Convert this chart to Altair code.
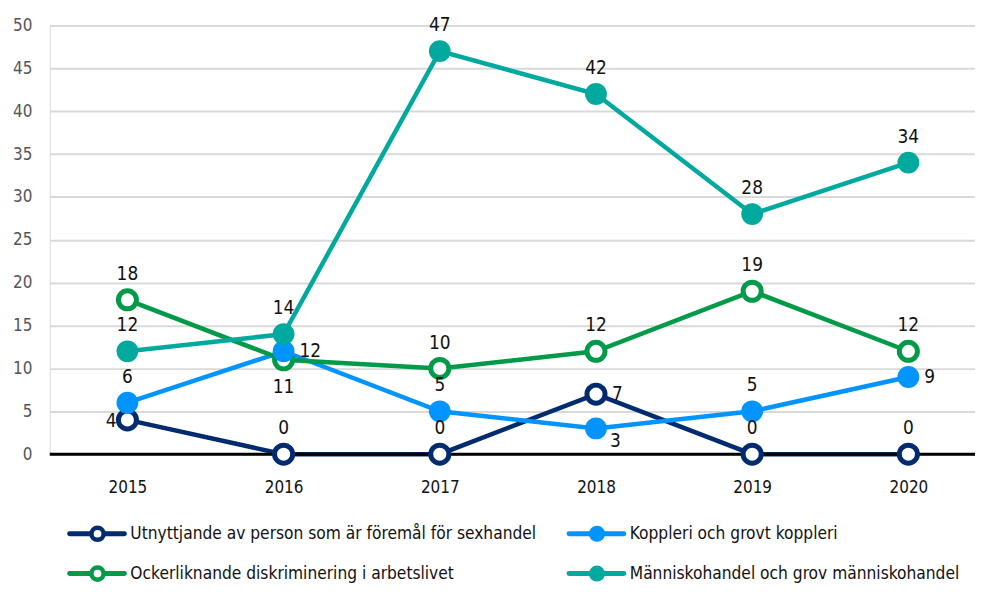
import altair as alt
import pandas as pd

years = [2015, 2016, 2017, 2018, 2019, 2020]
series_names = [
    "Utnyttjande av person som är föremål för sexhandel",
    "Koppleri och grovt koppleri",
    "Ockerliknande diskriminering i arbetslivet",
    "Människohandel och grov människohandel",
]
utnyttjande = [4, 0, 0, 7, 0, 0]
koppleri = [6, 12, 5, 3, 5, 9]
ocker = [18, 11, 10, 12, 19, 12]
manniskohandel = [12, 14, 47, 42, 28, 34]
colors = ["#002b6e", "#0094ff", "#009a49", "#00a99d"]
hollow = [True, False, True, False]
# label placement per series/year
label_pos = [
    ["left", "above", "above", "right", "above", "above"],
    ["above", "right", "above", "belowright", "above", "right"],
    ["above", "below", "above", "above", "above", "above"],
    ["above", "above", "above", "above", "above", "above"],
]
y_ticks = [0, 5, 10, 15, 20, 25, 30, 35, 40, 45, 50]

FONT = "DejaVu Sans Condensed"
all_values = [utnyttjande, koppleri, ocker, manniskohandel]
rows = []
for i, name in enumerate(series_names):
    for j, yr in enumerate(years):
        rows.append({"serie": name, "year": yr, "value": all_values[i][j],
                     "pos": label_pos[i][j], "idx": i})
df = pd.DataFrame(rows)

W, H = 930, 431
xscale = alt.Scale(domain=[2014.503, 2014.503 + W / 157.0], nice=False, zero=False)
yscale = alt.Scale(domain=[0, 50], nice=False)
cscale = alt.Scale(domain=series_names, range=colors)

base = alt.Chart(df)

xenc = alt.X("year:Q", scale=xscale,
             axis=alt.Axis(values=years, format="d", title=None, grid=False, domain=False,
                           ticks=False, labelPadding=26, labelFontSize=17, labelColor="#111",
                           labelFont=FONT))
yenc = alt.Y("value:Q", scale=yscale,
             axis=alt.Axis(values=y_ticks, title=None, domain=False, ticks=False,
                           gridColor="#d9d9d9", gridWidth=2, labelPadding=18,
                           labelFontSize=17, labelColor="#555", labelFont=FONT))

zero = alt.Chart(pd.DataFrame({"z": [0]})).mark_rule(color="black", strokeWidth=3).encode(
    y=alt.Y("z:Q", scale=yscale))

lines = base.mark_line(strokeWidth=4.5).encode(
    x=xenc, y=yenc,
    color=alt.Color("serie:N", scale=cscale, legend=None),
    detail="serie:N",
)

pts_hollow = base.transform_filter(alt.FieldOneOfPredicate(field="idx", oneOf=[0, 2])).mark_point(
    shape="circle", filled=True, fill="white", size=330, strokeWidth=5, opacity=1
).encode(x="year:Q", y="value:Q", stroke=alt.Color("serie:N", scale=cscale, legend=None))

pts_filled = base.transform_filter(alt.FieldOneOfPredicate(field="idx", oneOf=[1, 3])).mark_point(
    shape="circle", filled=True, size=480, opacity=1, strokeWidth=0
).encode(x="year:Q", y="value:Q", color=alt.Color("serie:N", scale=cscale, legend=None))

def labels(pos, dx, dy, align):
    return base.transform_filter(alt.datum.pos == pos).mark_text(
        font=FONT, fontSize=19, color="#111", dx=dx, dy=dy, align=align, baseline="middle"
    ).encode(x="year:Q", y="value:Q", text="value:Q")

lab = (labels("above", 0, -26, "center") + labels("below", 0, 27, "center")
       + labels("left", -11, 1, "right") + labels("right", 16, 0, "left")
       + labels("belowright", 14, 13, "left"))

# manual legend (2 columns x 2 rows) below the plot
leg_layers = []
leg_x = [20, 522]
leg_y = [511, 551]
for i, name in enumerate(series_names):
    col, row = i % 2, i // 2
    x0 = leg_x[col]
    yy = leg_y[row]
    one = pd.DataFrame({"serie": [name]})
    c = alt.Chart(one)
    leg_layers.append(c.mark_rule(strokeWidth=5, strokeCap="round").encode(
        x=alt.value(x0), x2=alt.value(x0 + 55), y=alt.value(yy),
        color=alt.Color("serie:N", scale=cscale, legend=None)))
    if hollow[i]:
        leg_layers.append(c.mark_point(shape="circle", filled=True, fill="white", size=150,
                                       strokeWidth=4.5, opacity=1).encode(
            x=alt.value(x0 + 28), y=alt.value(yy),
            stroke=alt.Color("serie:N", scale=cscale, legend=None)))
    else:
        leg_layers.append(c.mark_point(shape="circle", filled=True, size=260, opacity=1).encode(
            x=alt.value(x0 + 28), y=alt.value(yy),
            color=alt.Color("serie:N", scale=cscale, legend=None)))
    leg_layers.append(c.mark_text(font=FONT, fontSize=17.3, color="#111", align="left",
                                  baseline="middle").encode(
        x=alt.value(x0 + 61), y=alt.value(yy), text="serie:N"))

chart = alt.layer(lines, zero, pts_hollow, pts_filled, lab, *leg_layers).properties(
    width=W, height=H,
    autosize=alt.AutoSizeParams(type="none"),
    padding={"left": 42, "top": 16, "right": 0, "bottom": 129},
).configure_view(stroke=None).configure(font=FONT)

chart.save("out.html", embed_options={"renderer": "svg", "actions": False})
